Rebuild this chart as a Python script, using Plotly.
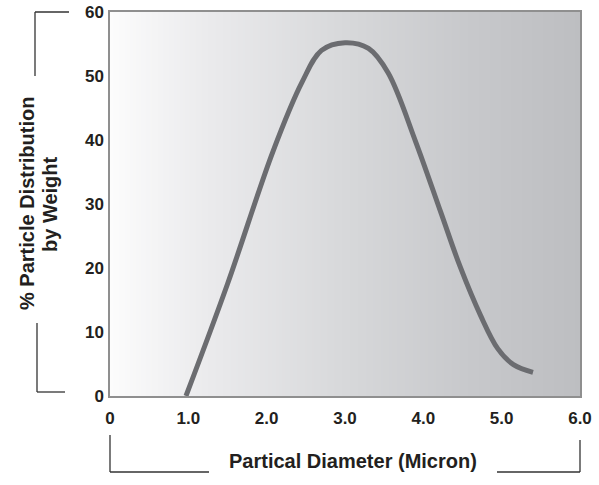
import numpy as np
import plotly.graph_objects as go

# ---- data ----
diameter = [0.97, 1.5, 2.08, 2.45, 2.7, 3.0, 3.3, 3.55, 3.9, 4.22, 4.47, 4.73, 4.95, 5.15, 5.4]
percent = [0.0, 17.5, 38.2, 49.0, 54.0, 55.2, 54.3, 50.5, 39.8, 28.8, 20.2, 12.6, 7.4, 4.9, 3.7]

x_ticks = [0, 1, 2, 3, 4, 5, 6]
x_ticktext = ["0", "1.0", "2.0", "3.0", "4.0", "5.0", "6.0"]
y_ticks = [0, 10, 20, 30, 40, 50, 60]
y_ticktext = ["0", "10", "20", "30", "40", "50", "60"]

x_title = "Partical Diameter (Micron)"
y_title_1 = "% Particle Distribution"
y_title_2 = "by Weight"

# ---- layout geometry (pixels) ----
W, H = 599, 485
L, R, T, B = 110, 580, 12, 396


def px(x):
    return (x - L) / (R - L)


def py(y):
    return (B - y) / (B - T)


fig = go.Figure()

# background gradient (white -> gray, left to right)
gx = np.linspace(0, 6, 61)
gz = [list(np.linspace(0, 1, 61))] * 2
fig.add_trace(go.Heatmap(
    x=gx, y=[0, 60], z=gz, zsmooth="best", showscale=False, hoverinfo="skip",
    colorscale=[[0, "#fcfcfc"], [0.2, "#ebebed"], [0.5, "#d7d8da"], [0.75, "#c8c9cc"], [1, "#bdbec1"]],
))

fig.add_trace(go.Scatter(
    x=diameter, y=percent, mode="lines",
    line=dict(color="#6b6c70", width=5, shape="spline", smoothing=1.0),
    hoverinfo="skip", showlegend=False,
))

tickfont = dict(family="Liberation Sans, Arial, sans-serif", size=17, color="#231f20", weight="bold")

fig.update_xaxes(
    range=[0, 6], tickvals=x_ticks, ticktext=x_ticktext, showgrid=False, zeroline=False,
    showline=True, mirror=True, linecolor="#8f8f8f", linewidth=1.5, ticks="",
    tickfont=tickfont, ticklabelstandoff=6, automargin=False, ticklabeloverflow="allow",
)
fig.update_yaxes(
    range=[0, 60], tickvals=y_ticks, ticktext=y_ticktext, showgrid=False, zeroline=False,
    showline=True, mirror=True, linecolor="#8f8f8f", linewidth=1.5, ticks="",
    tickfont=tickfont, ticklabelstandoff=1, automargin=False, ticklabeloverflow="allow",
)

titlefont = dict(family="Liberation Sans, Arial, sans-serif", size=20, color="#231f20", weight="bold")
ann = [
    dict(text=x_title, x=px(353), y=py(461), xref="paper", yref="paper",
         showarrow=False, font=titlefont, xanchor="center", yanchor="middle"),
    dict(text=y_title_1, x=px(27), y=py(204), xref="paper", yref="paper",
         showarrow=False, font=titlefont, textangle=-90, xanchor="center", yanchor="middle"),
    dict(text=y_title_2, x=px(50), y=py(204), xref="paper", yref="paper",
         showarrow=False, font=titlefont, textangle=-90, xanchor="center", yanchor="middle"),
]

lc = dict(color="#333333", width=1.3)
segs = [
    # y bracket top
    (35, 12, 69, 12), (35, 12, 35, 76),
    # y bracket bottom
    (37, 323, 37, 392), (37, 392, 65, 392),
    # x bracket left
    (110, 435, 110, 472), (110, 472, 209, 472),
    # x bracket right
    (580, 440, 580, 472), (497, 472, 580, 472),
]
shapes = [dict(type="line", xref="paper", yref="paper", x0=px(a), y0=py(b), x1=px(c), y1=py(d), line=lc)
          for a, b, c, d in segs]

fig.update_layout(
    width=W, height=H,
    margin=dict(l=L, r=W - R, t=T, b=H - B),
    paper_bgcolor="white", plot_bgcolor="white", showlegend=False,
    annotations=ann, shapes=shapes,
)

# remove the default page margin so the figure sits at the window's top-left corner
fig.write_html("out.html", config={"displayModeBar": False},
               post_script="document.body.style.margin='0';")
